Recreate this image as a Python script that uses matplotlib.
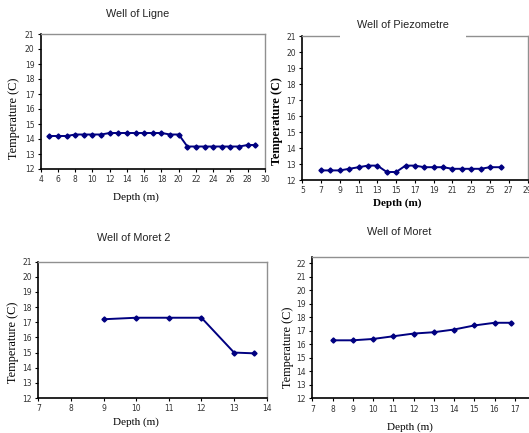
import matplotlib.pyplot as plt

# DATA
ligne_depth = [5, 6, 7, 8, 9, 10, 11, 12, 13, 14, 15, 16, 17, 18, 19, 20,
               21, 22, 23, 24, 25, 26, 27, 28, 28.8]
ligne_temp = [14.2, 14.2, 14.2, 14.3, 14.3, 14.3, 14.3, 14.4, 14.4, 14.4, 14.4, 14.4, 14.4, 14.4, 14.3, 14.3,
              13.5, 13.5, 13.5, 13.5, 13.5, 13.5, 13.5, 13.6, 13.6]

piezo_depth = [7, 8, 9, 10, 11, 12, 13, 14, 15, 16, 17, 18, 19, 20, 21, 22, 23, 24, 25, 26.2]
piezo_temp = [12.6, 12.6, 12.6, 12.7, 12.8, 12.9, 12.9, 12.5, 12.5, 12.9, 12.9, 12.8, 12.8, 12.8,
              12.7, 12.7, 12.7, 12.7, 12.8, 12.8]

moret2_depth = [9, 10, 11, 12, 13, 13.6]
moret2_temp = [17.2, 17.3, 17.3, 17.3, 15.0, 14.95]

moret_depth = [8, 9, 10, 11, 12, 13, 14, 15, 16, 16.8]
moret_temp = [16.3, 16.3, 16.4, 16.6, 16.8, 16.9, 17.1, 17.4, 17.6, 17.6]

W, H = 529, 433
fig = plt.figure(figsize=(W / 100, H / 100), dpi=100)

line_color = '#000080'
serif = 'Liberation Serif'
sans = 'Liberation Sans'


def px_axes(left, top, right, bottom):
    # axes from pixel box
    return fig.add_axes([left / W, 1 - bottom / H, (right - left) / W, (bottom - top) / H])


def draw_panel(box, x, y, xlim, xticks, ylim, yticks, title, title_xy, xlab_xy, ylab_xy,
               bold=False, title_box=False):
    ax = px_axes(*box)
    ax.plot(x, y, color=line_color, lw=1.4, marker='D', ms=2.6, clip_on=False)
    ax.set_xlim(*xlim)
    ax.set_ylim(*ylim)
    ax.set_xticks(xticks)
    ax.set_yticks(yticks)
    ax.tick_params(labelsize=5.5, length=2.5, width=0.8, pad=2, colors='black',
                   labelcolor='#333333')
    for s in ['left', 'bottom']:
        ax.spines[s].set_color('black')
        ax.spines[s].set_linewidth(1.2)
    for s in ['top', 'right']:
        ax.spines[s].set_color('#909090')
        ax.spines[s].set_linewidth(1.0)
    weight = 'bold' if bold else 'normal'
    t = fig.text(title_xy[0] / W, 1 - title_xy[1] / H, title, ha='center', va='center',
                 fontsize=7.8, family=sans, color='#222222')
    if title_box:
        t.set_bbox(dict(facecolor='white', edgecolor='none', pad=12))
    fig.text(xlab_xy[0] / W, 1 - xlab_xy[1] / H, 'Depth (m)', ha='center', va='center',
             fontsize=8, family=serif, fontweight=weight)
    fig.text(ylab_xy[0] / W, 1 - ylab_xy[1] / H, 'Temperature (C)', ha='center', va='center',
             fontsize=8.8, family=serif, fontweight=weight, rotation=90)
    return ax


draw_panel((40.7, 34, 265, 169), ligne_depth, ligne_temp,
           (4, 30), range(4, 31, 2), (12, 21), range(12, 22),
           'Well of Ligne', (138, 14), (136, 197), (14, 118))

draw_panel((302.3, 36, 527.5, 180), piezo_depth, piezo_temp,
           (5, 29), range(5, 30, 2), (12, 21), range(12, 22),
           'Well of Piezometre', (403, 25), (397, 203), (277, 121),
           bold=True, title_box=True)

draw_panel((38.3, 261.7, 266.7, 398), moret2_depth, moret2_temp,
           (7, 14), range(7, 15), (12, 21), range(12, 22),
           'Well of Moret 2', (134, 238), (136, 422), (13, 342))

draw_panel((312.3, 256.7, 535, 398.3), moret_depth, moret_temp,
           (7, 18), range(7, 18), (12, 22.5), range(12, 23),
           'Well of Moret', (399, 232), (410, 427), (288, 347))

plt.savefig('out.png', dpi=100)
